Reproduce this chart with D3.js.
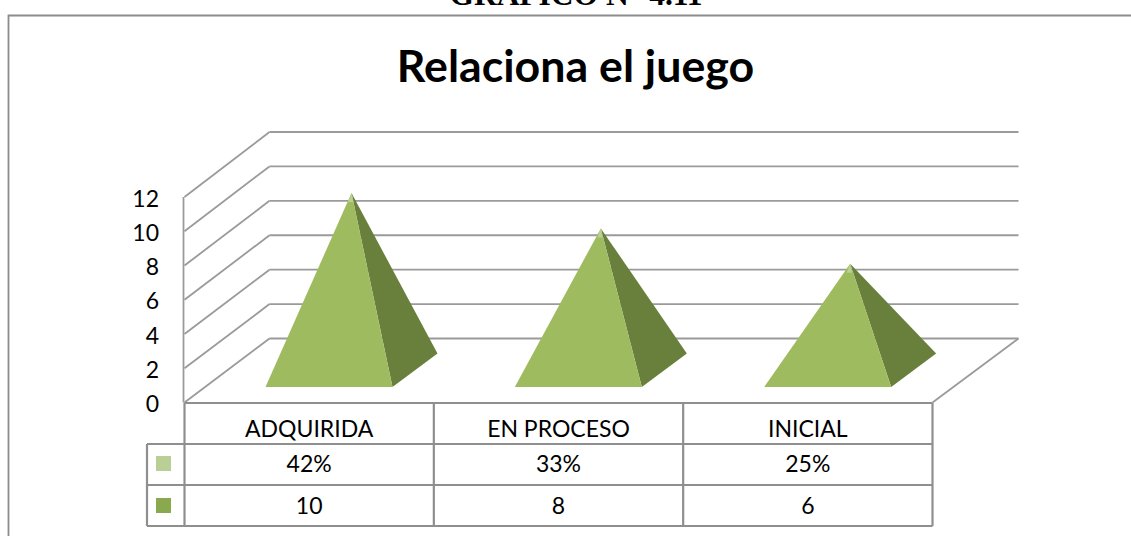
<!DOCTYPE html>
<html><head><meta charset="utf-8">
<script src="https://cdn.jsdelivr.net/npm/d3@7"></script>
<style>html,body{margin:0;padding:0;background:#fff;overflow:hidden}svg{display:block}text{font-family:Lato,"Open Sans",sans-serif;fill:#000}</style>
</head><body><svg id="c" width="1131" height="536"></svg>
<script>
const categories = ["ADQUIRIDA","EN PROCESO","INICIAL"];
const values = [10,8,6];
const percents = ["42%","33%","25%"];
const yTicks = [0,2,4,6,8,10,12];
const legendColors = ["#b9cf95","#8aa84e"];
const svg = d3.select("#c");
const grid = "#9a9a9a", tableLine = "#8f8f8f";
const x = d3.scaleBand().domain(categories).range([184.5,932.5]);
const yFront = d3.scaleLinear().domain([0,12]).range([402.5,197]);
const yBack = d3.scaleLinear().domain([0,12]).range([338.5,132]);
const yMid = d3.scaleLinear().domain([0,12]).range([370,157.6]);
const dx = 85, backRight = 1018.5;
const line = (a,b,c,d,col=grid,w=1.8)=>svg.append("line").attr("x1",a).attr("y1",b).attr("x2",c).attr("y2",d).attr("stroke",col).attr("stroke-width",w);

svg.append("text").attr("x",576).attr("y",4.5).attr("text-anchor","middle")
  .style("font-family","'Liberation Serif',serif").style("font-weight","bold").style("font-size","31.5px").text("GRÁFICO N° 4.11");
svg.append("path").attr("d","M8.5 537V15.5H1131").attr("fill","none").attr("stroke","#8c8c8c").attr("stroke-width",1.8);
svg.append("text").attr("x",575.5).attr("y",82).attr("text-anchor","middle").style("font-weight","bold").style("font-size","44.7px").text("Relaciona el juego");

yTicks.forEach(t=>{
  line(x.range()[0],yFront(t),x.range()[0]+dx,yBack(t));
  line(x.range()[0]+dx,yBack(t),backRight,yBack(t));
  svg.append("text").attr("x",159).attr("y",yFront(t)+9.5).attr("text-anchor","end").style("font-size","23px").text(t);
});
line(x.range()[0]-1,yFront(12),x.range()[0]-1,yFront(0));
line(x.range()[1],yFront(0),backRight,yBack(0));

categories.forEach((c,i)=>{
  const x0 = x(c)+81, w = 127, cx = x0+w/2+22.5, front=387, back=353.5, top=yMid(values[i]);
  const ap=[cx,top], fl=[x0,front], fr=[x0+w,front], br=[x0+w+45,back];
  svg.append("polygon").attr("points",[ap,fr,br].join(" ")).attr("fill","#69803c");
  svg.append("polygon").attr("points",[ap,fl,fr].join(" ")).attr("fill","#9fbb5f");
  svg.append("polygon").attr("points",[[cx,top],[cx-3.5,top+9],[cx+2,top+9]].join(" ")).attr("fill","#b9cf95");
});

const rows=[403,444,485,526], legendX=147;
line(x.range()[0],rows[0],x.range()[1],rows[0],tableLine,2.2);
line(legendX,rows[1],x.range()[1],rows[1],tableLine,2.2);
line(legendX,rows[2],x.range()[1],rows[2],tableLine,2.2);
line(legendX,rows[3],x.range()[1],rows[3],tableLine,2.2);
line(legendX,rows[1],legendX,rows[3],tableLine,2.2);
[...x.domain().map(d=>x(d)),x.range()[1]].forEach(v=>line(v,rows[0],v,rows[3],tableLine,2.2));
const rowData=[categories,percents,values];
const baselines=[437,472,514];
rowData.forEach((r,j)=>r.forEach((v,i)=>{
  svg.append("text").attr("x",x(categories[i])+x.bandwidth()/2).attr("y",baselines[j]).attr("text-anchor","middle").style("font-size","23px").text(v);
}));
legendColors.forEach((col,j)=>svg.append("rect").attr("x",156).attr("y",rows[j+1]+12+j).attr("width",15).attr("height",15).attr("fill",col));
</script></body></html>
